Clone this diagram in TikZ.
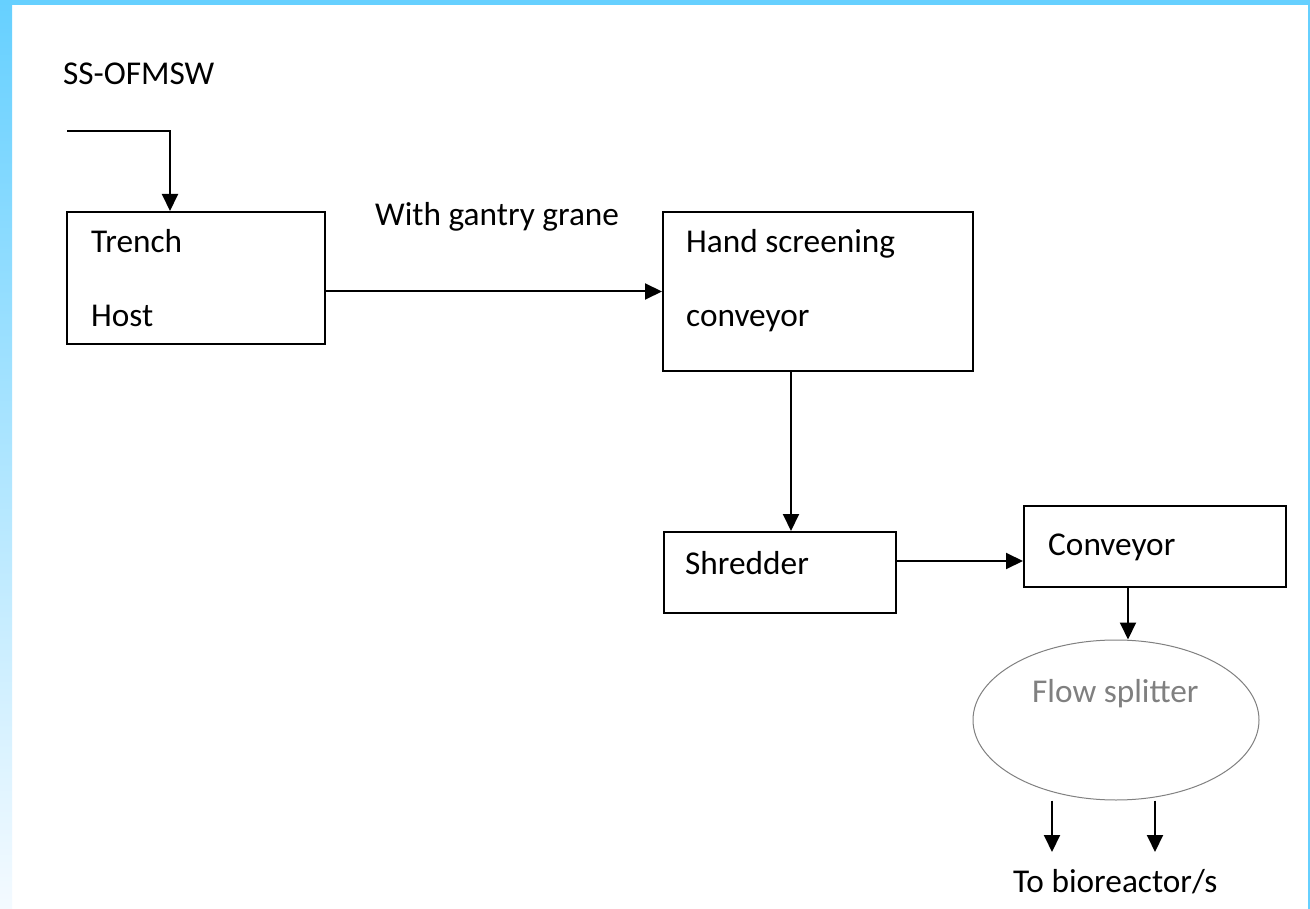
\documentclass[tikz,border=0pt]{standalone}
\usepackage{fontspec}
\setmainfont{Carlito}
\usetikzlibrary{arrows.meta,shapes.geometric}
\definecolor{frameblue}{HTML}{66D0FF}
\definecolor{paleblue}{HTML}{F4FAFF}
\definecolor{inkgray}{HTML}{808080}
\begin{document}
\begin{tikzpicture}[x=1pt,y=-1pt,
  txt/.style={inner sep=0pt, anchor=base west, font=\fontsize{33.3}{40}\selectfont},
  box/.style={draw, line width=2pt, inner sep=0pt},
  arr/.style={line width=2pt, -{Triangle[width=16pt,length=17pt]}}]
\useasboundingbox (0,0) rectangle (1310,909);
\fill[white] (0,0) rectangle (1310,909);
\shade[top color=frameblue, bottom color=paleblue] (0,0) rectangle (12,909);
\fill[frameblue] (0,0) rectangle (1310,5);
\fill[frameblue] (1308,0) rectangle (1310,909);
\node[txt] (feedlbl) at (63,85) {SS-OFMSW};
\coordinate (feed) at (67,131);
\node[box, minimum width=258pt, minimum height=132pt] (trench) at (196,278) {};
\node[txt] (trenchlbl) at (91,253) {Trench};
\node[txt] (hostlbl) at (91,327) {Host};
\node[box, minimum width=310pt, minimum height=159pt] (hand) at (818,291.5) {};
\node[txt] (handlbl) at (686,253) {Hand screening};
\node[txt] (handlbl2) at (686,327) {conveyor};
\node[txt] (gantry) at (375,226) {With gantry grane};
\node[box, minimum width=232pt, minimum height=81pt] (shredder) at (779.5,572.5) {};
\node[txt] (shredderlbl) at (685,574) {Shredder};
\node[box, minimum width=262pt, minimum height=81pt] (conveyor) at (1155,546) {};
\node[txt] (conveyorlbl) at (1048,555) {Conveyor};
\node[draw=inkgray, line width=1pt, ellipse, minimum width=286pt, minimum height=160pt, inner sep=0pt] (split) at (1116,720) {};
\node[txt, text=inkgray] (splitlbl) at (1032,702) {Flow splitter};
\coordinate (out1) at (1052,852);
\coordinate (out2) at (1155,852);
\node[txt] (biolbl) at (1013,892) {To bioreactor/s};
\draw[arr] (feed) -| ([xshift=-26pt]trench.north);
\draw[arr] (hand.west -| trench.east) -- (hand.west);
\draw[arr] ([xshift=-27pt]hand.south) -- ([xshift=-27pt]hand.south |- shredder.north);
\draw[arr] ([yshift=11.5pt]shredder.east) -- ([yshift=11.5pt]shredder.east -| conveyor.west);
\draw[arr] ([xshift=-27pt]conveyor.south) -- ([xshift=-27pt]conveyor.south |- split.north);
\draw[arr] (split.south -| out1) -- (out1);
\draw[arr] (split.south -| out2) -- (out2);
\end{tikzpicture}
\end{document}
